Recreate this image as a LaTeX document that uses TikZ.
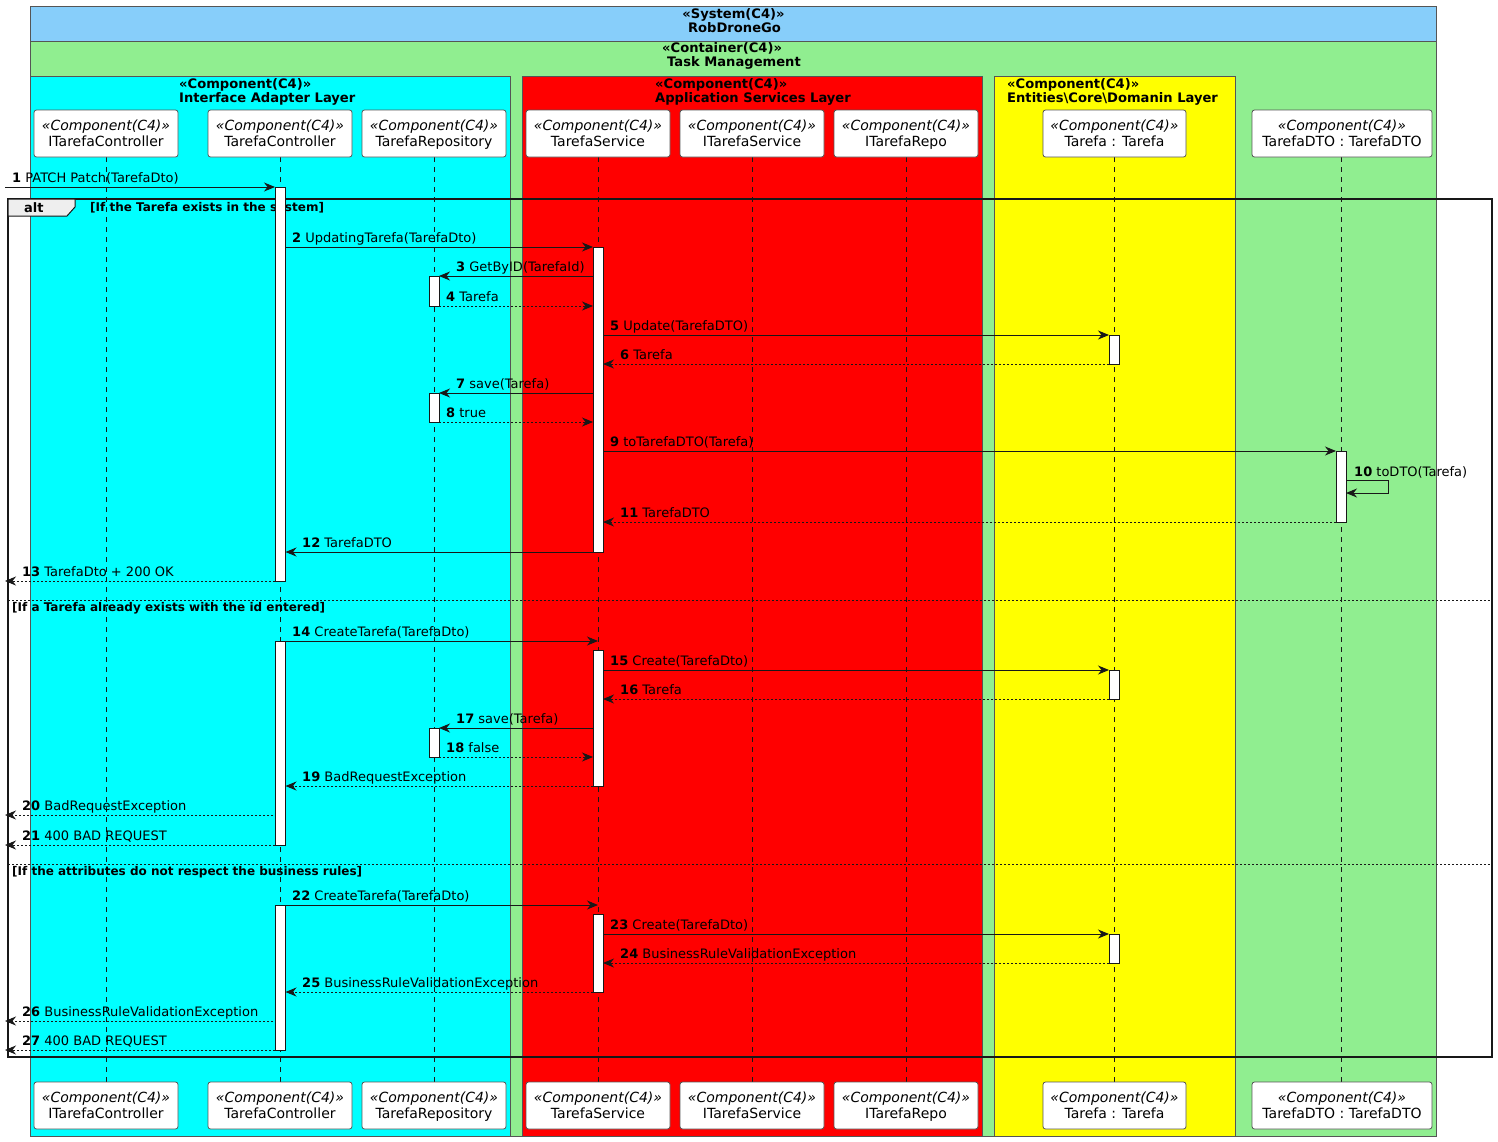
\documentclass[tikz,border=0pt]{standalone}
\usepackage{fontspec}
\setmainfont{DejaVu Sans}
\usetikzlibrary{arrows.meta}
\definecolor{sysblue}{HTML}{87CEFA}
\definecolor{contgreen}{HTML}{90EE90}
\definecolor{layercyan}{HTML}{00FFFF}
\definecolor{layerred}{HTML}{FF0000}
\definecolor{layeryellow}{HTML}{FFFF00}
\definecolor{ink}{HTML}{181818}
\definecolor{tabgray}{HTML}{EEEEEE}
\definecolor{boxline}{HTML}{555555}
\newcommand\seqmsg[7]{% num, y, x1, x2, style, label x, text
  \draw[#5] (#3,#2) -- (#4,#2);
  \node[msglabel] (msg#1) at (#6,#2-5) {{\bfseries #1} #7};
}
\newcommand\seqact[3]{\draw[actbar] (#1-5,#2) rectangle (#1+5,#3);}
\newcommand\seqpart[5]{% name, center x, center y, width, text
  \node[partbox, minimum width=#4] (#1) at (#2,#3) {};
  \node[parttext, font=\fontsize{14bp}{16bp}\selectfont\itshape] (#1s) at (#2,#3-3.5) {«Component(C4)»};
  \node[parttext] (#1n) at (#2,#3+12.5) {#5};
}
\begin{document}
\begin{tikzpicture}[x=1bp,y=-1bp,
  layer/.style={draw=boxline, line width=0.8bp},
  hdr/.style={anchor=base west, inner sep=0, font=\fontsize{13.1bp}{15bp}\selectfont\bfseries},
  partbox/.style={draw=boxline, fill=white, rounded corners=2.5bp, line width=0.8bp,
    minimum height=47bp, inner sep=0},
  parttext/.style={anchor=base, inner sep=0, font=\fontsize{14bp}{16bp}\selectfont},
  lifeline/.style={draw=ink, line width=0.6bp, dash pattern=on 5bp off 5bp},
  actbar/.style={draw=ink, fill=white, line width=0.9bp},
  call/.style={draw=ink, line width=0.9bp, -{Stealth[length=11bp,width=9bp,inset=3.5bp]}},
  reply/.style={call, dash pattern=on 2bp off 2bp},
  msglabel/.style={anchor=base west, inner sep=0, font=\fontsize{13bp}{15bp}\selectfont},
  guard/.style={anchor=base west, inner sep=0, font=\fontsize{12bp}{14bp}\selectfont\bfseries},
]
\useasboundingbox (0,0) rectangle (1498,1141);
\fill[white] (0,0) rectangle (1498,1141);

% system and container
\draw[layer, fill=sysblue] (30,6) rectangle (1436,41);
\draw[layer, fill=contgreen] (30,41) rectangle (1436,1136);
\node[hdr, anchor=base] (systitle) at (733.5,18) {«System(C4)»};
\node[hdr, anchor=base] (sysname) at (734.5,32) {RobDroneGo};
\node[hdr] (conttitle) at (662,52) {«Container(C4)»};
\node[hdr] (contname) at (667,66) {Task Management};

% layers
\draw[layer, fill=layercyan] (30,76) rectangle (510,1136);
\draw[layer, fill=layerred] (522,76) rectangle (982,1136);
\draw[layer, fill=layeryellow] (994,76) rectangle (1235,1136);
\node[hdr] (l1a) at (179,88) {«Component(C4)»};
\node[hdr] (l1b) at (179,102) {Interface Adapter Layer};
\node[hdr] (l2a) at (655,88) {«Component(C4)»};
\node[hdr] (l2b) at (655,102) {Application Services Layer};
\node[hdr] (l3a) at (1007,88) {«Component(C4)»};
\node[hdr] (l3b) at (1007,102) {Entities\textbackslash Core\textbackslash Domanin Layer};

% lifelines
\foreach \lx in {106,280,434,598,752,906,1114,1341}
  \draw[lifeline] (\lx,157) -- (\lx,1082);

% participants top and bottom
\seqpart{pA}{106}{133.5}{144bp}{ITarefaController}
\seqpart{pB}{280}{133.5}{144bp}{TarefaController}
\seqpart{pC}{434}{133.5}{144bp}{TarefaRepository}
\seqpart{pD}{598}{133.5}{144bp}{TarefaService}
\seqpart{pE}{752}{133.5}{144bp}{ITarefaService}
\seqpart{pF}{906}{133.5}{144bp}{ITarefaRepo}
\seqpart{pG}{1114.5}{133.5}{143bp}{Tarefa : Tarefa}
\seqpart{pH}{1342}{133.5}{180bp}{TarefaDTO : TarefaDTO}
\seqpart{qA}{106}{1105.5}{144bp}{ITarefaController}
\seqpart{qB}{280}{1105.5}{144bp}{TarefaController}
\seqpart{qC}{434}{1105.5}{144bp}{TarefaRepository}
\seqpart{qD}{598}{1105.5}{144bp}{TarefaService}
\seqpart{qE}{752}{1105.5}{144bp}{ITarefaService}
\seqpart{qF}{906}{1105.5}{144bp}{ITarefaRepo}
\seqpart{qG}{1114.5}{1105.5}{143bp}{Tarefa : Tarefa}
\seqpart{qH}{1342}{1105.5}{180bp}{TarefaDTO : TarefaDTO}

% alt frame
\draw[ink, line width=1.5bp] (8,199) rectangle (1492,1057);
\draw[ink, line width=1bp, fill=tabgray] (8,199) -- (75,199) -- (75,207) -- (67,216) -- (8,216) -- cycle;
\node[anchor=base west, inner sep=0, font=\fontsize{13bp}{15bp}\selectfont\bfseries] (alttag) at (24,212.5) {alt};
\node[guard] (g1) at (90,211.5) {[If the Tarefa exists in the system]};
\draw[ink, line width=0.8bp, dash pattern=on 2bp off 2bp] (8,600) -- (1492,600);
\node[guard] (g2) at (12,611.5) {[If a Tarefa already exists with the id entered]};
\draw[ink, line width=0.8bp, dash pattern=on 2bp off 2bp] (8,864) -- (1492,864);
\node[guard] (g3) at (12,875.5) {[If the attributes do not respect the business rules]};

% activations
\seqact{280.5}{187}{581}
\seqact{280.5}{641}{845}
\seqact{280.5}{905}{1050}
\seqact{598}{247}{552}
\seqact{598}{650}{786}
\seqact{598}{914}{992}
\seqact{434}{276}{306}
\seqact{434}{393}{422}
\seqact{434}{728}{757}
\seqact{1114}{335}{364}
\seqact{1114}{670}{699}
\seqact{1114}{934}{963}
\seqact{1341}{451}{522}

% messages
\seqmsg{1}{187}{5}{275}{call}{12}{PATCH Patch(TarefaDto)}
\seqmsg{2}{247}{285.5}{593}{call}{292}{UpdatingTarefa(TarefaDto)}
\seqmsg{3}{276}{593}{439}{call}{456}{GetByID(TarefaId)}
\seqmsg{4}{306}{439}{593}{reply}{446}{Tarefa}
\seqmsg{5}{335}{603}{1109}{call}{610}{Update(TarefaDTO)}
\seqmsg{6}{364}{1109}{603}{reply}{620}{Tarefa}
\seqmsg{7}{393}{593}{439}{call}{456}{save(Tarefa)}
\seqmsg{8}{422}{439}{593}{reply}{446}{true}
\seqmsg{9}{451}{603}{1336}{call}{610}{toTarefaDTO(Tarefa)}
\draw[call] (1346,480) -- (1388,480) -- (1388,493) -- (1346,493);
\node[msglabel] (msg10) at (1354,476) {{\bfseries 10} toDTO(Tarefa)};
\seqmsg{11}{522}{1336}{603}{reply}{620}{TarefaDTO}
\seqmsg{12}{552}{593}{285.5}{call}{302}{TarefaDTO}
\seqmsg{13}{581}{275}{5}{reply}{22}{TarefaDto + 200 OK}
\seqmsg{14}{641}{285.5}{598}{call}{292}{CreateTarefa(TarefaDto)}
\seqmsg{15}{670}{603}{1109}{call}{610}{Create(TarefaDto)}
\seqmsg{16}{699}{1109}{603}{reply}{620}{Tarefa}
\seqmsg{17}{728}{593}{439}{call}{456}{save(Tarefa)}
\seqmsg{18}{757}{439}{593}{reply}{446}{false}
\seqmsg{19}{786}{593}{285.5}{reply}{302}{BadRequestException}
\seqmsg{20}{815}{273}{5}{reply}{22}{BadRequestException}
\seqmsg{21}{845}{275}{5}{reply}{22}{400 BAD REQUEST}
\seqmsg{22}{905}{285.5}{598}{call}{292}{CreateTarefa(TarefaDto)}
\seqmsg{23}{934}{603}{1109}{call}{610}{Create(TarefaDto)}
\seqmsg{24}{963}{1109}{603}{reply}{620}{BusinessRuleValidationException}
\seqmsg{25}{992}{593}{285.5}{reply}{302}{BusinessRuleValidationException}
\seqmsg{26}{1021}{273}{5}{reply}{22}{BusinessRuleValidationException}
\seqmsg{27}{1050}{275}{5}{reply}{22}{400 BAD REQUEST}
\end{tikzpicture}
\end{document}
